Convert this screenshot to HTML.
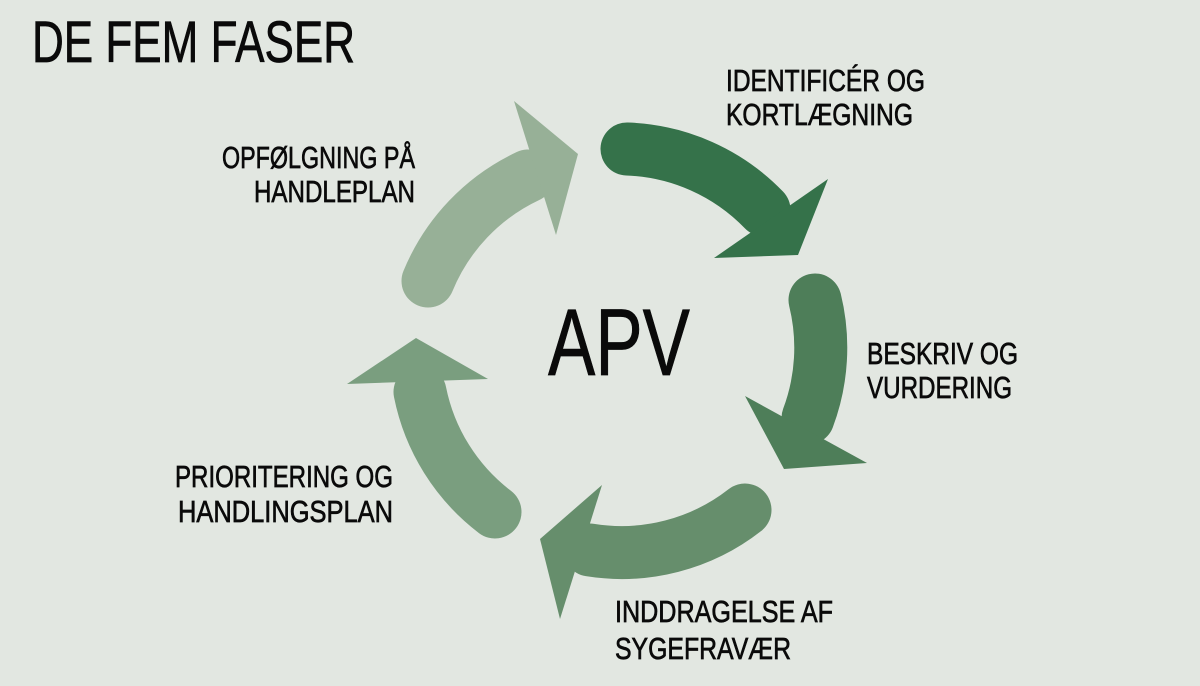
<!DOCTYPE html>
<html><head><meta charset="utf-8"><style>
html,body{margin:0;padding:0;background:#e2e7e1;}
svg{display:block}
text{font-family:"Liberation Sans Narrow","Liberation Sans",sans-serif;fill:#0a0a0a;stroke:#0a0a0a;stroke-width:0.7;}
</style></head><body>
<svg width="1200" height="686" viewBox="0 0 1200 686" xmlns="http://www.w3.org/2000/svg">
<rect width="1200" height="686" fill="#e2e7e1"/>
<path d="M627 149 A200 200 0 0 1 764 210" fill="none" stroke="#35724a" stroke-width="53" stroke-linecap="round"/>
<polygon points="714,258 828,179 798,255" fill="#35724a"/>
<path d="M815 300 A200 200 0 0 1 808 418" fill="none" stroke="#4e7e59" stroke-width="53" stroke-linecap="round"/>
<polygon points="745,396 867,463 784,469" fill="#4e7e59"/>
<path d="M745 510 A200 200 0 0 1 590 550" fill="none" stroke="#668e6c" stroke-width="53" stroke-linecap="round"/>
<polygon points="602,485 540,539 560,619" fill="#668e6c"/>
<path d="M495 512 A200 200 0 0 1 420 392" fill="none" stroke="#7a9e7f" stroke-width="53" stroke-linecap="round"/>
<polygon points="347,384 416,338 488,379" fill="#7a9e7f"/>
<path d="M428 281 A200 200 0 0 1 528 176" fill="none" stroke="#97b097" stroke-width="53" stroke-linecap="round"/>
<polygon points="514,101 578,154 556,235" fill="#97b097"/>

<text x="32" y="62" font-size="58" textLength="323" lengthAdjust="spacingAndGlyphs">DE FEM FASER</text>
<text x="548" y="375" font-size="95" textLength="142" lengthAdjust="spacingAndGlyphs">APV</text>

<text x="726" y="91" font-size="31" textLength="199" lengthAdjust="spacingAndGlyphs">IDENTIFICÉR OG</text>
<text x="726" y="125" font-size="31" textLength="187" lengthAdjust="spacingAndGlyphs">KORTLÆGNING</text>

<text x="222" y="168" font-size="31" textLength="193" lengthAdjust="spacingAndGlyphs">OPFØLGNING PÅ</text>
<text x="254" y="202" font-size="31" textLength="161" lengthAdjust="spacingAndGlyphs">HANDLEPLAN</text>

<text x="867" y="364" font-size="31" textLength="151" lengthAdjust="spacingAndGlyphs">BESKRIV OG</text>
<text x="867" y="398" font-size="31" textLength="145" lengthAdjust="spacingAndGlyphs">VURDERING</text>

<text x="175" y="487" font-size="31" textLength="218" lengthAdjust="spacingAndGlyphs">PRIORITERING OG</text>
<text x="178" y="522" font-size="31" textLength="215" lengthAdjust="spacingAndGlyphs">HANDLINGSPLAN</text>

<text x="615" y="622" font-size="31" textLength="218" lengthAdjust="spacingAndGlyphs">INDDRAGELSE AF</text>
<text x="615" y="659" font-size="31" textLength="176" lengthAdjust="spacingAndGlyphs">SYGEFRAVÆR</text>
</svg>
</body></html>
